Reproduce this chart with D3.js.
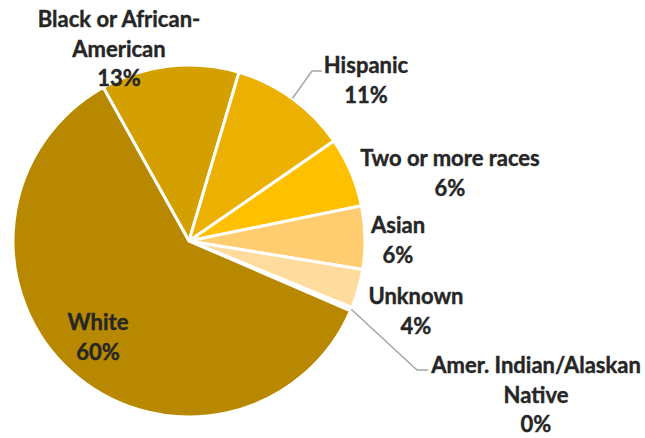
<!DOCTYPE html>
<html lang="en">
<head>
    <meta charset="UTF-8">
    <title>Race / ethnicity pie</title>
    <script src="https://d3js.org/d3.v7.min.js"></script>
    <style>
        body {
            margin: 0;
            background: #fff;
        }
        .slice {
            stroke: #fff;
            stroke-width: 3px;
        }
        .label {
            font-family: 'Lato', sans-serif;
            font-weight: bold;
            font-size: 22px;
            fill: #262626;
            stroke: #262626;
            stroke-width: 0.4px;
        }
        .leader {
            fill: none;
            stroke: #a6a6a6;
            stroke-width: 1.5px;
        }
    </style>
</head>
<body>
    <svg id="chart" width="645" height="438"></svg>

    <script>
        // data, in drawing order (clockwise from the first slice)
        const categories = ["Black or African-\nAmerican", "Hispanic", "Two or more races", "Asian",
                            "Unknown", "Amer. Indian/Alaskan\nNative", "White"];
        const shares = [12.7, 10.8, 6.4, 5.8, 3.6, 0.3, 60.4];
        const colors = ["#d4a000", "#ebb000", "#ffc000", "#ffcc70", "#ffdc9e", "#f5e6c0", "#b88900"];

        // where each label sits (centre x, first baseline y) and optional leader bends
        const labelLayout = [
            { x: 119, y: 27 },
            { x: 366, y: 73, leader: [[312, 71], [322, 71]] },
            { x: 450, y: 166 },
            { x: 398, y: 233 },
            { x: 416, y: 304 },
            { x: 536, y: 373, leader: [[417, 370], [428, 370]] },
            { x: 98, y: 330 }
        ];

        const cx = 189, cy = 241, radius = 176;
        const lineHeight = 29.5;
        const rot = -29.2 * Math.PI / 180;

        const data = categories.map((c, i) => ({ name: c, value: shares[i], color: colors[i], layout: labelLayout[i] }));

        const svg = d3.select("#chart");
        const g = svg.append("g").attr("transform", `translate(${cx},${cy})`);

        const pie = d3.pie().value(d => d.value).sort(null)
            .startAngle(rot).endAngle(rot + 2 * Math.PI);
        const arc = d3.arc().innerRadius(0).outerRadius(radius);
        const arcs = pie(data);

        g.selectAll(".slice")
            .data(arcs)
            .enter().append("path")
            .attr("class", "slice")
            .attr("d", arc)
            .attr("fill", d => d.data.color);

        // leader lines from slice edge
        arcs.filter(d => d.data.layout.leader).forEach(d => {
            const mid = (d.startAngle + d.endAngle) / 2;
            const start = [cx + radius * Math.sin(mid), cy - radius * Math.cos(mid)];
            const pts = [start].concat(d.data.layout.leader);
            svg.append("path")
                .attr("class", "leader")
                .attr("d", d3.line()(pts));
        });

        const fmt = d3.format(".0%");
        arcs.forEach(d => {
            const lines = d.data.name.split("\n").concat([fmt(d.data.value / 100)]);
            const t = svg.append("text")
                .attr("class", "label")
                .attr("text-anchor", "middle");
            lines.forEach((ln, i) => {
                t.append("tspan")
                    .attr("x", d.data.layout.x)
                    .attr("y", d.data.layout.y + i * lineHeight)
                    .text(ln);
            });
        });
    </script>
</body>
</html>
